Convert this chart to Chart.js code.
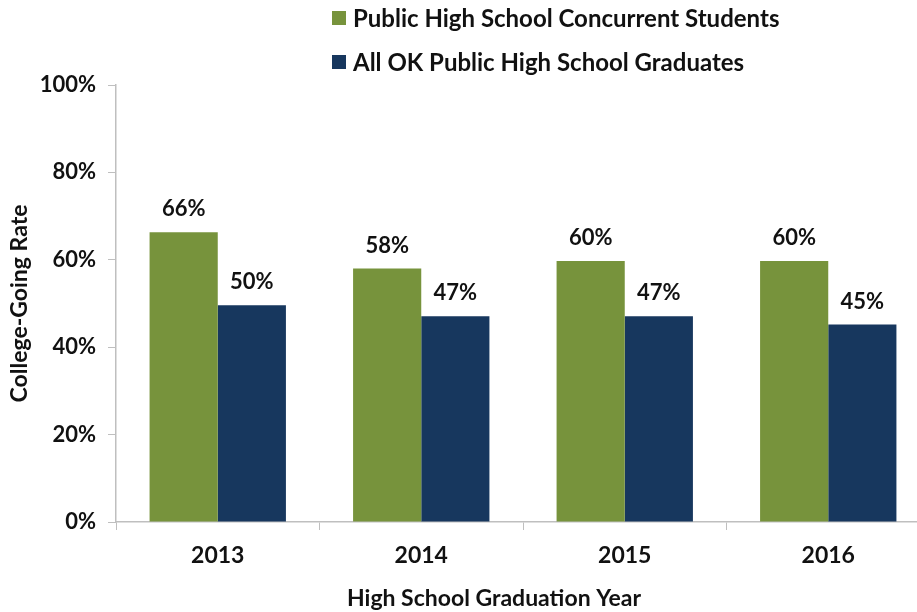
<!DOCTYPE html>
<html lang="en">
<head>
  <meta charset="UTF-8">
  <title>College-Going Rate</title>
  <script src="https://cdn.jsdelivr.net/npm/chart.js"></script>
  <style>
    html, body {
      margin: 0;
      padding: 0;
      background-color: #fff;
      overflow: hidden;
    }
    #rateChart {
      display: block;
    }
  </style>
</head>
<body>

<canvas id="rateChart" width="930" height="612"></canvas>

<script>
  // data
  const years = ['2013', '2014', '2015', '2016'];
  const concurrentRates = [66.3, 58.0, 59.7, 59.7];
  const allGradRates = [49.6, 47.1, 47.1, 45.2];
  const yTicks = [0, 20, 40, 60, 80, 100];

  const seriesNames = ['Public High School Concurrent Students', 'All OK Public High School Graduates'];
  const seriesColors = ['#77933C', '#17375E'];
  const xTitle = 'High School Graduation Year';
  const yTitle = 'College-Going Rate';

  const fontFamily = 'Lato, Carlito, "Open Sans", sans-serif';
  const textColor = '#111';
  const axisColor = '#bfbfbf';

  // value labels above each bar
  const barLabels = {
    id: 'barLabels',
    afterDatasetsDraw(chart) {
      const ctx = chart.ctx;
      ctx.save();
      ctx.font = 'bold 22px ' + fontFamily;
      ctx.fillStyle = textColor;
      ctx.textAlign = 'center';
      ctx.textBaseline = 'bottom';
      chart.data.datasets.forEach((ds, i) => {
        chart.getDatasetMeta(i).data.forEach((bar, j) => {
          ctx.fillText(Math.round(ds.data[j]) + '%', bar.x, bar.y - 12);
        });
      });
      ctx.restore();
    }
  };

  // stacked legend at the top, plus the x axis title
  const sideText = {
    id: 'sideText',
    afterDraw(chart) {
      const ctx = chart.ctx;
      const area = chart.chartArea;
      ctx.save();
      ctx.font = 'bold 24px ' + fontFamily;
      ctx.textBaseline = 'middle';
      ctx.textAlign = 'left';
      chart.data.datasets.forEach((ds, i) => {
        const cy = 18 + i * 44;
        ctx.fillStyle = ds.backgroundColor;
        ctx.fillRect(332, cy - 7, 14, 14);
        ctx.fillStyle = textColor;
        ctx.fillText(ds.label, 353, cy + 1);
      });

      ctx.font = 'bold 23px ' + fontFamily;
      ctx.textAlign = 'center';
      ctx.fillText(xTitle, (area.left + area.right) / 2 - 29, 599);
      ctx.restore();
    }
  };

  new Chart(document.getElementById('rateChart'), {
    type: 'bar',
    data: {
      labels: years,
      datasets: [
        { label: seriesNames[0], data: concurrentRates, backgroundColor: seriesColors[0] },
        { label: seriesNames[1], data: allGradRates, backgroundColor: seriesColors[1] }
      ]
    },
    options: {
      responsive: false,
      animation: false,
      categoryPercentage: 0.67,
      barPercentage: 1,
      layout: { padding: { top: 85, left: 0, right: 0, bottom: 0 } },
      plugins: {
        legend: { display: false },
        tooltip: { enabled: false }
      },
      scales: {
        x: {
          offset: true,
          border: { color: axisColor, width: 1.5 },
          grid: {
            offset: true,
            drawOnChartArea: false,
            drawTicks: true,
            tickLength: 8,
            color: axisColor
          },
          ticks: {
            color: textColor,
            padding: 12,
            font: { family: fontFamily, size: 23, weight: 'bold' }
          },
          afterFit(scale) { scale.height = 90; }
        },
        y: {
          min: 0,
          max: 100,
          afterBuildTicks(scale) { scale.ticks = yTicks.map(v => ({ value: v })); },
          border: { color: axisColor, width: 1.5 },
          grid: {
            drawOnChartArea: false,
            drawTicks: true,
            tickLength: 8,
            color: axisColor
          },
          ticks: {
            color: textColor,
            padding: 12,
            font: { family: fontFamily, size: 22, weight: 'bold' },
            callback: v => v + '%'
          },
          title: {
            display: true,
            text: yTitle,
            color: textColor,
            padding: { top: 6, bottom: 0 },
            font: { family: fontFamily, size: 23, weight: 'bold' }
          },
          afterFit(scale) { scale.width = 116; }
        }
      }
    },
    plugins: [barLabels, sideText]
  });
</script>

</body>
</html>
